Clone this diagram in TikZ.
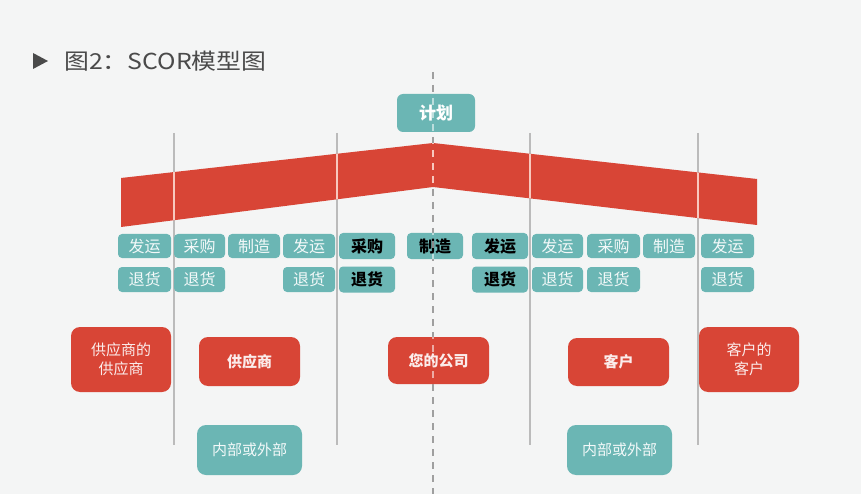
\documentclass[tikz,border=0pt]{standalone}
\usepackage{fontspec}
\newfontfamily\cjk{Noto Sans CJK SC}
\definecolor{bgc}{HTML}{F4F5F5}
\definecolor{tealc}{HTML}{6BB6B4}
\definecolor{redc}{HTML}{D84536}
\definecolor{linec}{HTML}{BBBBBB}
\definecolor{pinkc}{HTML}{F8C8BE}
\definecolor{titlec}{HTML}{4A4A4A}
\tikzset{
  sbox/.style={rectangle, rounded corners=4pt, fill=tealc, text=white!92!tealc, inner sep=0pt,
    minimum height=24pt, font=\cjk\fontsize{16}{16}\selectfont},
  dbox/.style={sbox, minimum height=26pt, text=black, font=\cjk\bfseries\fontsize{16}{16}\selectfont},
  bigred/.style={rectangle, rounded corners=9pt, fill=redc, text=white!90!redc, inner sep=0pt,
    align=center, font=\cjk\fontsize{15}{19}\selectfont},
  bigteal/.style={rectangle, rounded corners=9pt, fill=tealc, text=white!92!tealc, inner sep=0pt,
    font=\cjk\fontsize{15}{15}\selectfont},
  vline/.style={draw=linec, line width=2pt},
}
\begin{document}
\begin{tikzpicture}[x=1pt,y=-1pt]
\fill[bgc] (0,0) rectangle (861,494);
\useasboundingbox (0,0) rectangle (861,494);
% title
\fill[titlec] (33,53) -- (48,61) -- (33,69) -- cycle;
\node[anchor=west, text=titlec, font=\cjk\fontsize{22}{22}\selectfont, inner sep=0pt, xscale=1.13] (title) at (64,61) {图2：SCOR模型图};
% dashed center line
\draw[draw=linec!85!black, line width=1.6pt, dash pattern=on 7pt off 6pt] (433,72) -- (433,494);
% vertical lines
\foreach \x in {174,337,530,698} \draw[vline] (\x,133) -- (\x,445);
% red band
\fill[redc] (121,178) -- (433,143) -- (757,179) -- (757,225) -- (433,187) -- (121,227) -- cycle;
\begin{scope}
\clip (121,178) -- (433,143) -- (757,179) -- (757,225) -- (433,187) -- (121,227) -- cycle;
\foreach \x in {174,337,530,698} \draw[pinkc, line width=2.2pt] (\x,130) -- (\x,240);
\draw[pinkc, line width=1.8pt, dash pattern=on 7pt off 6pt] (433,72) -- (433,494);
\end{scope}
% plan
\node[rectangle, rounded corners=6pt, fill=tealc, text=white, minimum width=78pt, minimum height=38pt, inner sep=0pt,
  font=\cjk\bfseries\fontsize{17}{17}\selectfont] (plan) at (436,113) {计划};
% row 1
\node[sbox, minimum width=53pt] (r1a) at (144.5,246) {发运};
\node[sbox, minimum width=51pt] (r1b) at (199.5,246) {采购};
\node[sbox, minimum width=52pt] (r1c) at (254,246) {制造};
\node[sbox, minimum width=52pt] (r1d) at (309,246) {发运};
\node[dbox, minimum width=56pt] (r1e) at (367,246) {采购};
\node[dbox, minimum width=56pt] (r1f) at (435,246) {制造};
\node[dbox, minimum width=56pt] (r1g) at (500,246) {发运};
\node[sbox, minimum width=51pt] (r1h) at (557.5,246) {发运};
\node[sbox, minimum width=53pt] (r1i) at (613.5,246) {采购};
\node[sbox, minimum width=52pt] (r1j) at (669,246) {制造};
\node[sbox, minimum width=53pt] (r1k) at (727.5,246) {发运};
% row 2
\node[sbox, minimum width=53pt, minimum height=25pt] (r2a) at (144.5,279.5) {退货};
\node[sbox, minimum width=51pt, minimum height=25pt] (r2b) at (199.5,279.5) {退货};
\node[sbox, minimum width=52pt, minimum height=25pt] (r2d) at (309,279.5) {退货};
\node[dbox, minimum width=56pt] (r2e) at (367,279.5) {退货};
\node[dbox, minimum width=56pt] (r2g) at (500,279.5) {退货};
\node[sbox, minimum width=51pt, minimum height=25pt] (r2h) at (557.5,279.5) {退货};
\node[sbox, minimum width=53pt, minimum height=25pt] (r2i) at (613.5,279.5) {退货};
\node[sbox, minimum width=53pt, minimum height=25pt] (r2k) at (727.5,279.5) {退货};
% big boxes
\node[bigred, minimum width=100pt, minimum height=65pt] (ss) at (121,359.5) {供应商的\\供应商};
\node[bigred, minimum width=101pt, minimum height=49pt, font=\cjk\bfseries\fontsize{15}{15}\selectfont] (sup) at (249.5,361.5) {供应商};
\node[bigred, minimum width=101pt, minimum height=47pt, font=\cjk\bfseries\fontsize{15}{15}\selectfont] (co) at (438.5,360.5) {您的公司};
\node[bigred, minimum width=101pt, minimum height=48pt, font=\cjk\bfseries\fontsize{15}{15}\selectfont] (cu) at (618.5,362) {客户};
\node[bigred, minimum width=100pt, minimum height=65pt] (cc) at (749,359.5) {客户的\\客户};
\node[bigteal, minimum width=105pt, minimum height=50pt] (ioL) at (249.5,450) {内部或外部};
\node[bigteal, minimum width=105pt, minimum height=50pt] (ioR) at (619.5,450) {内部或外部};
% dashes lightened over boxes
\begin{scope}
\clip (397,94) rectangle (475,132) (co.south west) rectangle (co.north east) (r1f.south west) rectangle (r1f.north east);
\draw[white, opacity=0.55, line width=1.6pt, dash pattern=on 7pt off 6pt] (433,72) -- (433,494);
\end{scope}
\end{tikzpicture}
\end{document}
